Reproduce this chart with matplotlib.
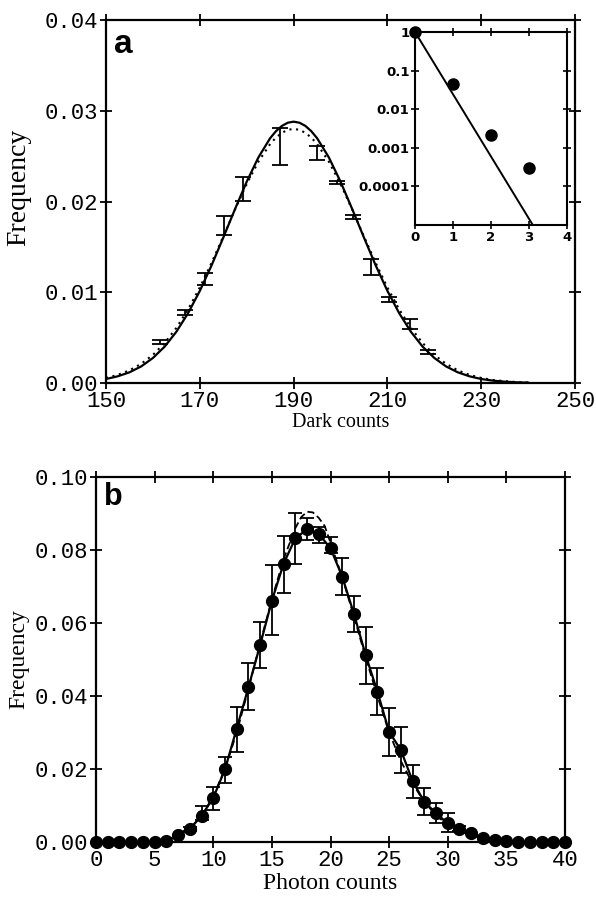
import numpy as np
import matplotlib
matplotlib.use("Agg")
import matplotlib.pyplot as plt
from matplotlib.ticker import FixedLocator, FixedFormatter, NullLocator

# panel a: dark count distribution
a_x = [150, 152.5, 155, 157.5, 160, 162.5, 165, 167.5, 170, 172.5, 175, 177.5, 180,
       182.5, 185, 186.25, 187.5, 188.75, 190, 191.25, 192.5, 193.75, 195, 197.5, 200,
       202.5, 205, 207.5, 210, 212.5, 215, 217.5, 220, 222.5, 225, 227.5, 230, 232.5,
       235, 237.5, 240]
a_solid = [0.00044, 0.00074, 0.00118, 0.00183, 0.00276, 0.00401, 0.00565, 0.00770,
           0.01015, 0.01296, 0.01602, 0.01916, 0.02219, 0.02487, 0.02698, 0.02776,
           0.02833, 0.02868, 0.02880, 0.02868, 0.02833, 0.02776, 0.02698, 0.02487,
           0.02219, 0.01916, 0.01602, 0.01296, 0.01015, 0.00770, 0.00565, 0.00401,
           0.00276, 0.00183, 0.00118, 0.00074, 0.00044, 0.00026, 0.00015, 0.00008,
           0.00004]
a_dotted = [0.00056, 0.00090, 0.00140, 0.00212, 0.00310, 0.00441, 0.00608, 0.00812,
            0.01053, 0.01324, 0.01615, 0.01911, 0.02193, 0.02440, 0.02634, 0.02705,
            0.02757, 0.02790, 0.02800, 0.02790, 0.02757, 0.02705, 0.02634, 0.02440,
            0.02193, 0.01911, 0.01615, 0.01324, 0.01053, 0.00812, 0.00608, 0.00441,
            0.00310, 0.00212, 0.00140, 0.00090, 0.00056, 0.00034, 0.00020, 0.00011,
            0.00006]
a_err_x = [161.5, 166.8, 171.1, 175.2, 179.2, 187.1, 194.9, 199.2, 202.6, 206.5, 210.3, 214.8, 218.7]
a_err_lo = [0.0043, 0.0075, 0.0108, 0.0163, 0.0201, 0.0240, 0.0246, 0.0219, 0.0181, 0.0119, 0.0089, 0.0060, 0.0032]
a_err_hi = [0.0047, 0.0081, 0.0121, 0.0184, 0.0227, 0.0281, 0.0261, 0.0223, 0.0185, 0.0137, 0.0095, 0.0070, 0.0036]

# inset: log plot
ins_x = [0, 1, 2, 3]
ins_y = [1.0, 0.045, 0.0021, 0.0003]
fit_x = [0, 3.1]
fit_y = [1.0, 1e-5]

# panel b: photon count distribution
b_x = list(range(41))
b_y = [0, 0, 0, 0, 0, 0, 0.0003, 0.0019, 0.0036, 0.0072, 0.0121, 0.0199, 0.0311,
       0.0424, 0.0540, 0.0661, 0.0763, 0.0832, 0.0857, 0.0844, 0.0805, 0.0727,
       0.0625, 0.0512, 0.0412, 0.0302, 0.0252, 0.0167, 0.0110, 0.0079, 0.0051,
       0.0037, 0.0024, 0.0012, 0.0006, 0.0003, 0.0001, 0, 0, 0, 0]
b_err_x = [8, 9, 10, 11, 12, 13, 14, 15, 16, 17, 18, 19, 20, 21, 22, 23, 24, 25,
           26, 27, 28, 29, 30, 31]
b_err_lo = [0.0030, 0.0060, 0.0088, 0.0161, 0.0247, 0.0362, 0.0476, 0.0567, 0.0682,
            0.0763, 0.0827, 0.0820, 0.0791, 0.0677, 0.0576, 0.0434, 0.0348, 0.0236,
            0.0188, 0.0120, 0.0074, 0.0051, 0.0028, 0.0030]
b_err_hi = [0.0042, 0.0098, 0.0151, 0.0234, 0.0371, 0.0490, 0.0604, 0.0759, 0.0838,
            0.0901, 0.0888, 0.0864, 0.0836, 0.0777, 0.0674, 0.0590, 0.0476, 0.0366,
            0.0316, 0.0211, 0.0147, 0.0106, 0.0079, 0.0045]
b_model_x = [6, 7, 8, 9, 10, 11, 12, 13, 14, 15, 16, 17, 17.5, 18, 18.5, 19, 19.5,
             20, 21, 22, 23, 24, 25, 26, 27, 28, 29, 30, 31, 32, 33, 34, 35, 36]
b_model_y = [0.0005, 0.0015, 0.0035, 0.0072, 0.0125, 0.0200, 0.0300, 0.0420, 0.0545,
             0.0665, 0.0775, 0.0860, 0.0890, 0.0905, 0.0903, 0.0888, 0.0866, 0.0820,
             0.0725, 0.0618, 0.0505, 0.0400, 0.0300, 0.0222, 0.0160, 0.0110, 0.0073,
             0.0047, 0.0030, 0.0018, 0.0010, 0.0005, 0.0002, 0.0]

mono = "Liberation Mono"
serif = "Liberation Serif"


def style_axes(ax, xticks, yticks, yfmt, ticklen=9):
    for s in ax.spines.values():
        s.set_linewidth(1.6)
    ax.xaxis.set_major_locator(FixedLocator(xticks))
    ax.yaxis.set_major_locator(FixedLocator(yticks))
    ax.set_xticklabels([str(t) for t in xticks], fontfamily=mono, fontsize=16)
    ax.set_yticklabels([yfmt % t for t in yticks], fontfamily=mono, fontsize=16)
    ax.tick_params(direction="inout", length=ticklen, width=1.3, top=True, right=True,
                   pad=1)


fig = plt.figure(figsize=(5.96, 8.97), dpi=100)

# ---- panel a
ax1 = fig.add_axes([0.1779, 0.5730, 0.7869, 0.4047])
ax1.plot(a_x, a_solid, color="black", lw=1.6)
ax1.plot(a_x, a_dotted, color="black", lw=1.5, linestyle=(0, (1, 2.2)))
ax1.errorbar(a_err_x, (np.array(a_err_hi) + np.array(a_err_lo)) / 2,
             yerr=(np.array(a_err_hi) - np.array(a_err_lo)) / 2,
             fmt="none", ecolor="black", elinewidth=1.3, capsize=6, capthick=1.3)
ax1.set_xlim(150, 250)
ax1.set_ylim(0, 0.04)
style_axes(ax1, [150, 170, 190, 210, 230, 250], [0, 0.01, 0.02, 0.03, 0.04], "%.2f")
ax1.set_xlabel("Dark counts", fontfamily=serif, fontsize=14.5)
ax1.xaxis.set_label_coords(0.5, -0.082)
ax1.set_ylabel("Frequency", fontfamily=serif, fontsize=20)
ax1.yaxis.set_label_coords(-0.16, 0.54)
ax1.text(0.018, 0.975, "a", transform=ax1.transAxes, fontfamily="Liberation Sans",
         fontweight="bold", fontsize=24, va="top", ha="left")

# ---- inset
ax_in = fig.add_axes([0.6963, 0.7492, 0.2550, 0.2152])
ax_in.set_yscale("log")
ax_in.plot(fit_x, fit_y, color="black", lw=1.4)
ax_in.plot(ins_x, ins_y, "o", color="black", ms=8, clip_on=False)
ax_in.set_xlim(0, 4)
ax_in.set_ylim(1e-5, 1)
for s in ax_in.spines.values():
    s.set_linewidth(1.5)
ax_in.xaxis.set_major_locator(FixedLocator([0, 1, 2, 3, 4]))
ax_in.xaxis.set_major_formatter(FixedFormatter(["0", "1", "2", "3", "4"]))
ax_in.yaxis.set_major_locator(FixedLocator([1, 0.1, 0.01, 0.001, 0.0001]))
ax_in.yaxis.set_major_formatter(FixedFormatter(["1", "0.1", "0.01", "0.001", "0.0001"]))
ax_in.yaxis.set_minor_locator(NullLocator())
ax_in.tick_params(direction="inout", length=6, width=1.2, top=True, right=True, pad=1,
                  labelsize=9.5)
for lab in ax_in.get_xticklabels() + ax_in.get_yticklabels():
    lab.set_fontweight("bold")
    lab.set_fontfamily("DejaVu Sans")

# ---- panel b
ax2 = fig.add_axes([0.1611, 0.0613, 0.7869, 0.4069])
ax2.plot(b_model_x, b_model_y, color="black", lw=1.3, linestyle=(0, (4, 2)))
ax2.errorbar(b_err_x, (np.array(b_err_hi) + np.array(b_err_lo)) / 2,
             yerr=(np.array(b_err_hi) - np.array(b_err_lo)) / 2,
             fmt="none", ecolor="black", elinewidth=1.3, capsize=5, capthick=1.3)
ax2.plot(b_x, b_y, "-o", color="black", lw=1.6, ms=8.5, clip_on=False, zorder=3)
ax2.set_xlim(0, 40)
ax2.set_ylim(0, 0.10)
style_axes(ax2, [0, 5, 10, 15, 20, 25, 30, 35, 40],
           [0, 0.02, 0.04, 0.06, 0.08, 0.10], "%.2f")
ax2.set_xlabel("Photon counts", fontfamily=serif, fontsize=17, labelpad=2)
ax2.set_ylabel("Frequency", fontfamily=serif, fontsize=17, labelpad=4)
ax2.text(0.018, 0.985, "b", transform=ax2.transAxes, fontfamily="Liberation Sans",
         fontweight="bold", fontsize=22, va="top", ha="left")

fig.savefig("out.png", dpi=100)
